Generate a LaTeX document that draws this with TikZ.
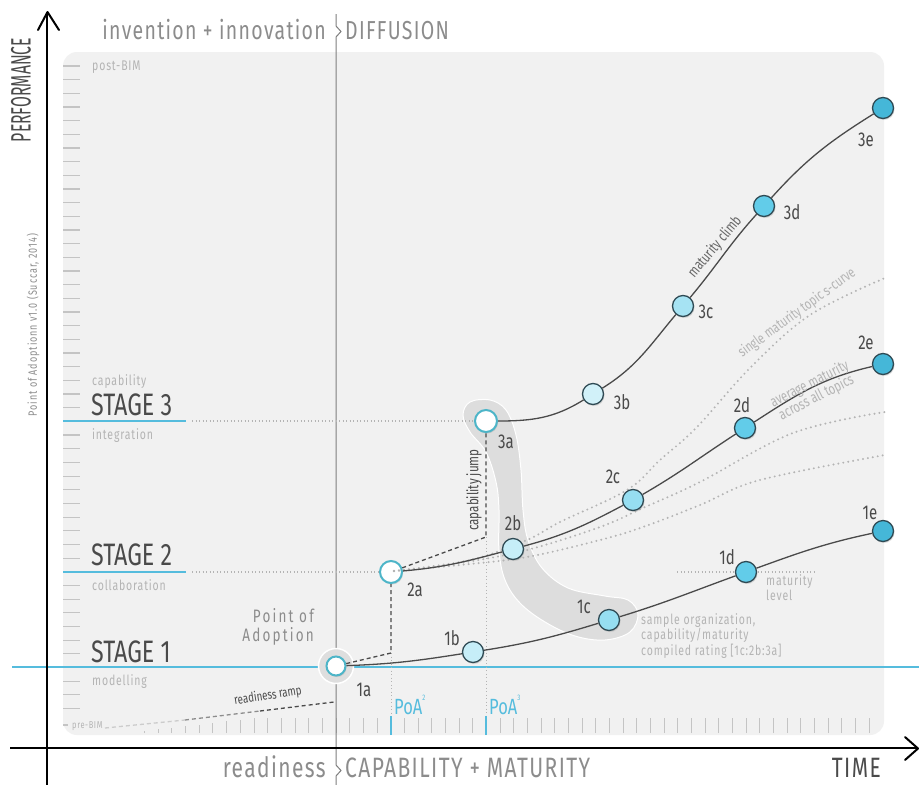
\documentclass[tikz,border=0pt]{standalone}
\usepackage{fontspec}
\setmainfont{Fira Sans}[FakeStretch=0.75]
\newfontfamily\hfont{Fira Sans}[FakeStretch=0.75, LetterSpace=5]
\newfontfamily\sfontw{Fira Sans}[FakeStretch=0.75, LetterSpace=6]
\newfontfamily\pfont{Fira Sans}[FakeStretch=0.75, LetterSpace=12]
\newfontfamily\cfont{Fira Sans}[FakeStretch=0.75, LetterSpace=8]
\usetikzlibrary{shadows,calc}
\definecolor{panel}{HTML}{F1F1F1}
\definecolor{bluel}{HTML}{55BCDD}
\definecolor{ringc}{HTML}{4DB5C8}
\definecolor{edgec}{HTML}{2F4A54}
\definecolor{fb}{HTML}{C6EEF8}
\definecolor{fc}{HTML}{96DEF1}
\definecolor{fd}{HTML}{62CCE9}
\definecolor{fe}{HTML}{45B7D8}
\definecolor{hdr}{HTML}{8C8C8C}
\definecolor{faint}{HTML}{B4B4B4}
\definecolor{darkt}{HTML}{4A4A4A}
\definecolor{blobc}{HTML}{DDDDDD}
\definecolor{tickc}{HTML}{C4C4C4}
\tikzset{
 fs/.style={font=\fontsize{#1}{#1}\selectfont},
 ls/.style={font=\sfontw\fontsize{#1}{#1}\selectfont},
 hs/.style={font=\hfont\fontsize{#1}{#1}\selectfont},
 pt/.style={circle, draw=edgec, line width=1.3pt, minimum size=21pt, inner sep=0pt,
   drop shadow={opacity=0.25, shadow xshift=1pt, shadow yshift=-1.5pt}},
 ptw/.style={pt, fill=white, draw=ringc, line width=2pt},
 ptlab/.style={fs=20, text=darkt, inner sep=0pt},
 sidelab/.style={ls=14, text=faint, inner sep=0pt, anchor=base west},
 stagelab/.style={fs=31, text=darkt, inner sep=0pt, anchor=base west},
 curve/.style={draw=darkt, line width=1.3pt},
 sdot/.style={draw=faint, line width=2.2pt, line cap=round, dash pattern=on 0pt off 5pt},
 hdot/.style={draw=faint, line width=1.3pt, dash pattern=on 1pt off 2.5pt},
 vdot/.style={draw=faint, line width=1pt, dash pattern=on 1pt off 2.5pt},
 jump/.style={draw=darkt, line width=1.3pt, dash pattern=on 4pt off 3pt},
 tickl/.style={draw=tickc, line width=1.2pt},
 axis/.style={draw=black, line width=2pt},
 bluestage/.style={draw=bluel, line width=2.5pt},
}
\begin{document}
\begin{tikzpicture}[x=1pt,y=-1pt]
\useasboundingbox (0,0) rectangle (919,785);
\fill[white] (0,0) rectangle (919,785);
% panel
\fill[panel, rounded corners=14pt] (63,52) rectangle (884,735);
% left ticks
\foreach \k in {0,...,47}{%
  \ifnum\k=26\else\ifnum\k=37\else\ifnum\k=44\else
  \draw[tickl] (63,{66+13.67*\k}) -- (80,{66+13.67*\k});
  \fi\fi\fi}
\draw[tickl] (63,725) -- (68,725);
% bottom ticks
\foreach \j in {-18,...,35}{%
  \pgfmathsetmacro\tp{max(718,731-(\j+18)*1.6)}
  \draw[tickl, line width=1pt] ({390.7+13.67*\j},733) -- ({390.7+13.67*\j},\tp);}
% side labels
\node[sidelab] (postbim) at (92,70) {post-BIM};
\node[sidelab] (capab) at (92,385) {capability};
\node[sidelab] (integ) at (92,439) {integration};
\node[sidelab] (collab) at (92,590) {collaboration};
\node[sidelab] (model) at (92,685) {modelling};
\node[sidelab, ls=10] (prebim) at (72,728) {pre-BIM};
\node[stagelab] (st3) at (91,415) {STAGE 3};
\node[stagelab] (st2) at (91,565) {STAGE 2};
\node[stagelab] (st1) at (91,662) {STAGE 1};
% stage lines
\coordinate (s3a) at (63,421); \coordinate (s3b) at (186,421); \coordinate (s3c) at (192,421);
\coordinate (s2a) at (63,572); \coordinate (s2b) at (186,572); \coordinate (s2c) at (192,572);
\coordinate (s1a) at (12,667); \coordinate (s1b) at (919,667);
\draw[bluestage] (s3a) -- (s3b);
\draw[bluestage] (s2a) -- (s2b);
\draw[draw=bluel, line width=1.8pt] (s1a) -- (s1b);
% separator line
\draw[draw=hdr!90!black, line width=1pt] (336,14) -- (336,26) -- (341,31.5) -- (336,37) -- (336,765) -- (341,770.5) -- (336,776) -- (336,785);
% axes
\draw[axis] (47,785) -- (47,12);
\draw[axis, line cap=round, line join=round] (38,30) -- (47.5,12) -- (59,30);
\draw[axis] (10,748) -- (917,748);
\draw[axis, line cap=round, line join=round] (905,737) -- (918,748.5) -- (905,760);
% highlight blob
\filldraw[fill=blobc, draw=white, line width=1pt] plot[smooth cycle, tension=0.6] coordinates {
 (470,402) (490,400) (506,410) (516,435) (521,470) (523,510) (528,540) (542,568) (568,588)
 (605,596) (628,600) (638,614) (630,632) (605,640) (575,636) (545,622) (520,603) (505,580)
 (499,550) (499,510) (496,482) (486,452) (470,432) (463,415)};
% readiness ramp
\coordinate (r0) at (105,728); \coordinate (r1) at (185,720); \coordinate (r2) at (260,711); \coordinate (r3) at (334,702);
\draw[jump, draw=black!20] (r0) -- (r1);
\draw[jump, draw=black!45] (r1) -- (r2);
\draw[jump] (r2) -- (r3);
\node[fs=13, text=darkt, rotate=9, inner sep=0pt] (rramp) at (268,696) {readiness ramp};
% white nodes
\coordinate (c1a) at (336,666);
\node[circle, minimum size=35pt, inner sep=0pt, fill=black!13, draw=white, line width=1.5pt] (halo) at (c1a) {};
\node[ptw, minimum size=19pt] (n1a) at (c1a) {};
\node[ptw, minimum size=22pt] (n2a) at (391,572) {};
\node[ptw, minimum size=22pt] (n3a) at (486,421) {};
\draw[hdot] (s3c) -- (n3a);
\draw[hdot] (s2c) -- (n2a);
% PoA markers
\coordinate (k2) at (391,653); \coordinate (k3) at (486,537);
\coordinate (p2) at (391,716); \coordinate (p3) at (486,716);
\coordinate (q2) at (391,735); \coordinate (q3) at (486,735);
\draw[vdot] (k2) -- (p2);
\draw[vdot] (k3) -- (p3);
\draw[draw=bluel, line width=1.8pt] (p2) -- (q2);
\draw[draw=bluel, line width=1.8pt] (p3) -- (q3);
\node[fs=22, text=bluel, inner sep=0pt, anchor=base west] (poa2) at (394,714) {PoA\raisebox{1.2ex}{\fontsize{8}{8}\selectfont 2}};
\node[fs=22, text=bluel, inner sep=0pt, anchor=base west] (poa3) at (489,714) {PoA\raisebox{1.2ex}{\fontsize{8}{8}\selectfont 3}};
% jumps
\draw[jump] (n1a) -- (k2) -- (n2a);
\draw[jump] (n2a) -- (k3) -- (n3a);
\node[fs=15.5, text=darkt, rotate=90, inner sep=0pt] (cjump) at (474,490) {capability jump};
% maturity level
\coordinate (m0) at (677,572); \coordinate (m1) at (817,572);
\draw[hdot] (m0) -- (m1);
% dotted s-curves
\coordinate (d0) at (394,571);
\draw[sdot] plot[smooth, tension=0.6] coordinates {(d0) (470,560) (527,540) (560,522) (627,490) (660,460) (697,427) (750,368) (810,315) (885,278)};
\draw[sdot] plot[smooth, tension=0.6] coordinates {(d0) (460,563) (527,550) (600,527) (643,508) (700,482) (793,433) (885,412)};
\draw[sdot] plot[smooth, tension=0.6] coordinates {(d0) (460,565) (527,557) (600,540) (643,527) (700,505) (760,480) (885,455)};
% other nodes
\node[pt, fill=fb] (n1b) at (473,652) {};
\node[pt, fill=fb] (n2b) at (513,549) {};
\node[pt, fill=fb!80!white] (n3b) at (593,394) {};
\node[pt, fill=fc] (n1c) at (609,620) {};
\node[pt, fill=fc] (n2c) at (633,500) {};
\node[pt, fill=fc!85!white] (n3c) at (683,306) {};
\node[pt, fill=fd] (n1d) at (746,572) {};
\node[pt, fill=fd] (n2d) at (745,428) {};
\node[pt, fill=fd] (n3d) at (764,206) {};
\node[pt, fill=fe] (n1e) at (883,531) {};
\node[pt, fill=fe] (n2e) at (883,364) {};
\node[pt, fill=fe] (n3e) at (883,108) {};
% curves
\draw[curve] (n1a) to[out=2,in=189] (n1b) to[out=9,in=197] (n1c) to[out=17,in=200] (n1d) to[out=20,in=192] (n1e);
\draw[curve] (n2a) to[out=5,in=195] (n2b) to[out=15,in=208] (n2c) to[out=30,in=213] (n2d) to[out=33,in=193] (n2e);
\draw[curve] (n3a) to[out=0,in=212] (n3b) to[out=32,in=230] (n3c) to[out=50,in=228] (n3d) to[out=48,in=212] (n3e);
% node labels
\node[ptlab] (l1a) at (364,690) {1a};
\node[ptlab] (l1b) at (452,638) {1b};
\node[ptlab] (l1c) at (584,607) {1c};
\node[ptlab] (l1d) at (727,557) {1d};
\node[ptlab] (l1e) at (870,513) {1e};
\node[ptlab] (l2a) at (415,590) {2a};
\node[ptlab] (l2b) at (513,523) {2b};
\node[ptlab] (l2c) at (613,477) {2c};
\node[ptlab] (l2d) at (742,405) {2d};
\node[ptlab] (l2e) at (866,343) {2e};
\node[ptlab] (l3a) at (506,442) {3a};
\node[ptlab] (l3b) at (622,402) {3b};
\node[ptlab] (l3c) at (706,312) {3c};
\node[ptlab] (l3d) at (792,212) {3d};
\node[ptlab] (l3e) at (866,140) {3e};
% annotations
\node[text=hdr, align=right, anchor=base east, inner sep=0pt, font=\pfont\fontsize{18}{19}\selectfont] (poatxt) at (314,641) {Point of\\Adoption};
\node[text=faint, align=left, anchor=north west, inner sep=0pt, font=\sfontw\fontsize{14}{15.5}\selectfont] (sample) at (641,613) {sample organization,\\capability/maturity\\compiled rating [1c:2b:3a]};
\node[text=faint, align=left, anchor=north west, inner sep=0pt, font=\sfontw\fontsize{14}{15.5}\selectfont] (mlevel) at (766,574) {maturity\\level};
\node[fs=15, text=darkt!85, rotate=50, inner sep=0pt] (mclimb) at (715,247) {maturity climb};
\node[fs=14.5, text=faint, rotate=36, inner sep=0pt] (single) at (797,313) {single maturity topic s-curve};
\node[text=faint, rotate=27, inner sep=0pt, align=center, font=\fontsize{15}{15}\selectfont] (avg) at (813,391) {average maturity\\across all topics};
% headers
\node[hs=26, text=hdr, anchor=base east, inner sep=0pt] (inv) at (326,39) {invention + innovation};
\node[hs=26, text=hdr, anchor=base west, inner sep=0pt] (dif) at (345,39) {DIFFUSION};
\node[hs=28, text=hdr, anchor=base east, inner sep=0pt] (rdy) at (326,777) {readiness};
\node[hs=28, text=hdr, anchor=base west, inner sep=0pt] (capm) at (345,777) {CAPABILITY + MATURITY};
\node[hs=28, text=darkt, anchor=base east, inner sep=0pt] (time) at (881,777) {TIME};
\node[fs=28, text=darkt, rotate=90, inner sep=0pt] (perf) at (21,90) {\scalebox{0.75}[1]{PERFORMANCE}};
\node[text=hdr, rotate=90, inner sep=0pt, font=\cfont\fontsize{12}{12}\selectfont] (credit) at (33,325) {Point of Adoptionn v1.0 (Succar, 2014)};
\end{tikzpicture}
\end{document}
